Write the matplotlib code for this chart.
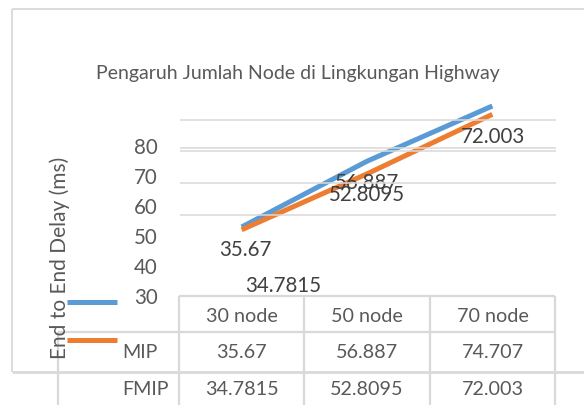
import matplotlib
matplotlib.use("Agg")
import matplotlib.pyplot as plt
from matplotlib.lines import Line2D

# data
CATEGORIES = ["30 node", "50 node", "70 node"]
SERIES = ["MIP", "FMIP"]
MIP = [35.67, 56.887, 74.707]
FMIP = [34.7815, 52.8095, 72.003]
Y_TICKS = [30, 40, 50, 60, 70, 80]
TITLE = "Pengaruh Jumlah Node di Lingkungan Highway"
Y_LABEL = "End to End Delay (ms)"

COLORS = ["#5B9BD5", "#ED7D31"]
TEXT = "#595959"
LABEL = "#404040"
GRID = "#D9D9D9"
FONT = ["Lato", "DejaVu Sans"]

W, H = 584, 406
# pixel offsets of the (misplaced) data labels, None = not shown
LABEL_OFFSETS = [
    [(4, -22), (0, -21), None],
    [(42, -55), (0, -20), (1, -22)],
]

plt.rcParams["font.family"] = FONT


def fx(x):
    return x / W


def fy(y):
    return 1 - y / H


def seg(fig, x0, y0, x1, y1, color=GRID, lw=1.3):
    fig.add_artist(Line2D([fx(x0), fx(x1)], [fy(y0), fy(y1)],
                          transform=fig.transFigure, color=color, lw=lw,
                          solid_capstyle="butt"))


fig = plt.figure(figsize=(W / 100, H / 100), dpi=100)
fig.patch.set_facecolor("white")

# chart border
seg(fig, 12, 10, W, 10)
seg(fig, 12, 10, 12, 373)
seg(fig, 12, 373, W, 373, lw=2)

# gridlines (offset from the tick labels, as in the source)
for gy in [121, 149, 152, 184, 216]:
    seg(fig, 180, gy, 556, gy, lw=1.1)

fig.text(fx(298), fy(73), TITLE, ha="center", va="center",
         fontsize=14, color=TEXT)
fig.text(fx(60), fy(258), Y_LABEL, ha="center", va="center",
         rotation=90, fontsize=15, color=TEXT)

# tick labels axis
tax = fig.add_axes([fx(159), fy(296), 0.0005, 150 / H])
tax.set_ylim(Y_TICKS[0], Y_TICKS[-1])
tax.set_yticks(Y_TICKS)
tax.set_xticks([])
tax.tick_params(axis="y", length=0, pad=1, labelsize=14.8, labelcolor=TEXT)
for s in tax.spines.values():
    s.set_visible(False)
tax.patch.set_alpha(0)

# lines axis
ax = fig.add_axes([fx(179), fy(297), (555 - 179) / W, (297 - 121) / H])
ax.set_xlim(-0.5, 2.5)
ax.set_ylim(13.41, 70.19)
ax.axis("off")
xs = range(len(CATEGORIES))
for vals, color in zip([MIP, FMIP], COLORS):
    ax.plot(xs, vals, color=color, lw=3.6, solid_capstyle="butt", clip_on=False)
for vals, offs in zip([MIP, FMIP], LABEL_OFFSETS):
    for i, (v, off) in enumerate(zip(vals, offs)):
        if off is None:
            continue
        ax.annotate(str(v), xy=(i, v), xytext=off, textcoords="offset pixels",
                    ha="center", va="center", fontsize=14.8, color=LABEL,
                    annotation_clip=False)

# data table
cols = [179, 304, 430, 555]
seg(fig, 179, 297, 555, 297, lw=1.6)
seg(fig, 58, 333, 555, 333, lw=1.6)
for cx in cols:
    seg(fig, cx, 297, cx, H, lw=1.6)
seg(fig, 58, 333, 58, H, lw=1.6)

centers = [(a + b) / 2 for a, b in zip(cols[:-1], cols[1:])]
for c, name in zip(centers, CATEGORIES):
    fig.text(fx(c), fy(316), name, ha="center", va="center",
             fontsize=14.2, color=TEXT)
for row_y, name, vals in zip([353, 390], SERIES, [MIP, FMIP]):
    fig.text(fx(122), fy(row_y), name, ha="left", va="center",
             fontsize=14.2, color=TEXT)
    for c, v in zip(centers, vals):
        fig.text(fx(c), fy(row_y), str(v), ha="center", va="center",
                 fontsize=14.2, color=TEXT)

# legend keys
for key_y, color in zip([303, 341], COLORS):
    seg(fig, 67, key_y, 117, key_y, color=color, lw=3.6)

fig.savefig("out.png", dpi=100)
